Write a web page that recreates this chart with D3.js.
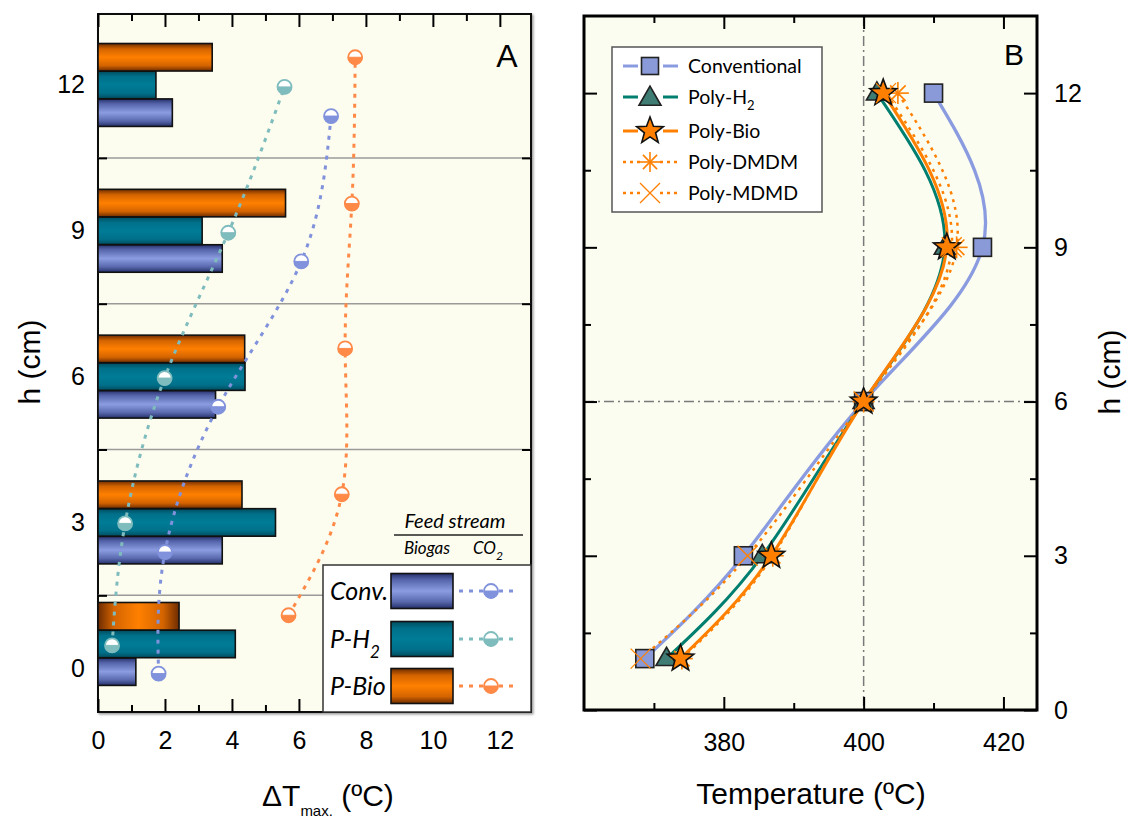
<!DOCTYPE html>
<html><head><meta charset="utf-8">
<script src="https://cdn.jsdelivr.net/npm/d3@7"></script>
<style>body{margin:0;background:#fff;} svg{display:block}</style>
</head><body><svg id="c" width="1132" height="823"></svg>
<script>
// ---------- Panel A data ----------
const groupH   = [0.5, 3, 6, 9, 12];          // bar group centre heights (cm)
const barConv  = [1.13, 3.71, 3.51, 3.71, 2.22];
const barPH2   = [4.10, 5.30, 4.39, 3.11, 1.73];
const barPBio  = [2.42, 4.30, 4.38, 5.60, 3.41];
const co2ConvX = [1.81, 2.00, 3.59, 6.07, 6.96];
const co2ConvH = [-0.11, 2.39, 5.38, 8.37, 11.36];
const co2PH2X  = [0.42, 0.81, 1.99, 3.89, 5.57];
const co2PH2H  = [0.47, 2.98, 5.97, 8.96, 11.96];
const co2PBioX = [5.69, 7.28, 7.38, 7.58, 7.68];
const co2PBioH = [1.09, 3.58, 6.58, 9.56, 12.57];
const aYLabels = [0, 3, 6, 9, 12];
const aSeparators = [1.5, 4.5, 7.5, 10.5];
const aXMajor = [0, 2, 4, 6, 8, 10, 12];
const aXMinor = [1, 3, 5, 7, 9, 11];

// ---------- Panel B data ----------
const hB     = [1, 3, 6, 9, 12];
const tConv  = [368.7, 382.8, 400, 417.0, 410.0];
const tPH2   = [371.8, 385.5, 400, 411.6, 401.9];
const tPBio  = [373.8, 386.8, 400, 411.9, 402.8];
const tDMDM  = [374.0, 387.0, 400, 413.3, 404.9];
const tMDMD  = [368.1, 383.4, 400, 412.6, 403.2];
const bXMajor = [380, 400, 420];
const bXMinor = [370, 390, 410];
const bYMajor = [0, 3, 6, 9, 12];
const bYMinor = [1.5, 4.5, 7.5, 10.5];
const bLegend = ["Conventional", "Poly-H", "Poly-Bio", "Poly-DMDM", "Poly-MDMD"];

const svg = d3.select("#c");
const FONT = "'Liberation Sans', Arial, sans-serif";
const IFONT = "Lato, 'Open Sans', sans-serif";
const defs = svg.append("defs");

function vGrad(id, stops) {
  const g = defs.append("linearGradient").attr("id", id).attr("x1",0).attr("y1",0).attr("x2",0).attr("y2",1);
  stops.forEach(s => g.append("stop").attr("offset", s[0]).attr("stop-color", s[1]));
}
function hGrad(id, stops) {
  const g = defs.append("linearGradient").attr("id", id).attr("x1",0).attr("y1",0).attr("x2",1).attr("y2",0);
  stops.forEach(s => g.append("stop").attr("offset", s[0]).attr("stop-color", s[1]));
}
vGrad("gBlue", [[0,"#25306a"],[0.18,"#5665ab"],[0.5,"#8b9de0"],[0.8,"#5a69ae"],[1,"#25306a"]]);
vGrad("gTeal", [[0,"#004c5e"],[0.2,"#00708a"],[0.5,"#007c97"],[0.8,"#00708a"],[1,"#004c5e"]]);
vGrad("gOrange", [[0,"#6e2c00"],[0.2,"#d46400"],[0.5,"#ff8000"],[0.8,"#d46400"],[1,"#6e2c00"]]);
hGrad("gOrangeH", [[0,"#6e2c00"],[0.2,"#d46400"],[0.5,"#ff8000"],[0.8,"#d46400"],[1,"#6e2c00"]]);
defs.append("filter").attr("id","shadow").append("feDropShadow")
  .attr("dx",1.5).attr("dy",1.5).attr("stdDeviation",1).attr("flood-color","#999");

// ================= PANEL A =================
const A = {l: 98, r: 531, t: 14, b: 712};
const xA = d3.scaleLinear().domain([0, 12.93]).range([A.l, A.r]);
const yA = d3.scaleLinear().domain([-0.9, 13.46]).range([A.b, A.t]);
const gA = svg.append("g");
gA.append("rect").attr("x",A.l).attr("y",A.t).attr("width",A.r-A.l).attr("height",A.b-A.t)
  .attr("fill","#fdfdef").attr("stroke","#111").attr("stroke-width",2).attr("filter","url(#shadow)");

// separators
gA.selectAll("line.sep").data(aSeparators).join("line").attr("class","sep")
  .attr("x1",A.l).attr("x2",A.r).attr("y1",d=>yA(d)).attr("y2",d=>yA(d))
  .attr("stroke","#9a9a9a").attr("stroke-width",1.5);

// bars
const bh = yA(0) - yA(0.566);
const off = 0.57;
const barSeries = [
  {vals: barConv, d: -off, fill: "url(#gBlue)"},
  {vals: barPH2,  d: 0,    fill: "url(#gTeal)"},
  {vals: barPBio, d: off,  fill: "url(#gOrange)"}
];
barSeries.forEach(s => {
  gA.selectAll(null).data(s.vals.map((v,i)=>({v, h: groupH[i] + s.d, i}))).join("rect")
    .attr("x", xA(0)).attr("y", d => yA(d.h) - bh/2)
    .attr("width", d => xA(d.v) - xA(0)).attr("height", bh)
    .attr("fill", d => (s.fill === "url(#gOrange)" && d.i === 0) ? "url(#gOrangeH)" : s.fill)
    .attr("stroke","#111").attr("stroke-width",1.6);
});

// CO2 dotted curves
const co2 = [
  {x: co2ConvX, h: co2ConvH, c: "#8192dc"},
  {x: co2PH2X,  h: co2PH2H,  c: "#7fbcbd"},
  {x: co2PBioX, h: co2PBioH, c: "#ff8a48"}
];
const lineA = d3.line().curve(d3.curveNatural);
function halfCircle(g, cx, cy, r, c) {
  g.append("circle").attr("cx",cx).attr("cy",cy).attr("r",r).attr("fill","#fff").attr("stroke",c).attr("stroke-width",1.8);
  g.append("path").attr("d", `M${cx-r},${cy} A${r},${r} 0 0 0 ${cx+r},${cy} Z`).attr("fill",c).attr("stroke",c).attr("stroke-width",1);
}
co2.forEach(s => {
  const pts = s.x.map((v,i)=>[xA(v), yA(s.h[i])]);
  gA.append("path").attr("d", lineA(pts)).attr("fill","none").attr("stroke",s.c)
    .attr("stroke-width",3).attr("stroke-dasharray","4,6");
});
co2.forEach(s => {
  s.x.forEach((v,i)=> halfCircle(gA, xA(v), yA(s.h[i]), 7, s.c));
});

// axes A
const axAB = d3.axisBottom(xA).tickValues(aXMajor).tickSizeInner(-13).tickSizeOuter(0).tickPadding(19).tickFormat(d3.format("d"));
gA.append("g").attr("transform",`translate(0,${A.b})`).call(axAB);
gA.append("g").attr("transform",`translate(0,${A.b})`).call(d3.axisBottom(xA).tickValues(aXMinor).tickSizeInner(-7).tickSizeOuter(0).tickFormat(""));
gA.append("g").attr("transform",`translate(0,${A.t})`).call(d3.axisTop(xA).tickValues(aXMajor).tickSizeInner(-13).tickSizeOuter(0).tickFormat(""));
gA.append("g").attr("transform",`translate(0,${A.t})`).call(d3.axisTop(xA).tickValues(aXMinor).tickSizeInner(-7).tickSizeOuter(0).tickFormat(""));
gA.append("g").attr("transform",`translate(${A.l},0)`).call(d3.axisLeft(yA).tickValues(aYLabels).tickSize(0).tickPadding(13).tickFormat(d3.format("d")));
gA.append("g").attr("transform",`translate(${A.l},0)`).call(d3.axisLeft(yA).tickValues(aSeparators).tickSizeInner(-9).tickSizeOuter(0).tickFormat(""));
gA.append("g").attr("transform",`translate(${A.r},0)`).call(d3.axisRight(yA).tickValues(aSeparators).tickSizeInner(-9).tickSizeOuter(0).tickFormat(""));

// legend A
const LA = {x: 323, y: 565, w: 208, h: 147};
gA.append("rect").attr("x",LA.x).attr("y",LA.y).attr("width",LA.w).attr("height",LA.h)
  .attr("fill","#fff").attr("stroke","#333").attr("stroke-width",1.5);
const legA = [
  {t: "Conv.", f: "url(#gBlue)", c: co2[0].c, y: 591},
  {t: "P-H", sub: "2", f: "url(#gTeal)", c: co2[1].c, y: 639},
  {t: "P-Bio", f: "url(#gOrange)", c: co2[2].c, y: 686}
];
legA.forEach(e => {
  const tx = gA.append("text").attr("x",330).attr("y",e.y+9).attr("font-family",IFONT).attr("font-style","italic")
    .attr("font-size",25).attr("fill","#000").text(e.t);
  if (e.sub) tx.append("tspan").attr("font-size",17).attr("dy",10).text(e.sub);
  gA.append("rect").attr("x",391).attr("y",e.y-17.5).attr("width",62).attr("height",35).attr("fill",e.f).attr("stroke","#111").attr("stroke-width",1.6);
  gA.append("line").attr("x1",459).attr("x2",518).attr("y1",e.y).attr("y2",e.y).attr("stroke",e.c).attr("stroke-width",3).attr("stroke-dasharray","4,6");
  halfCircle(gA, 491, e.y, 7, e.c);
});
gA.append("text").attr("x",455).attr("y",528).attr("text-anchor","middle").attr("font-family",IFONT).attr("font-style","italic").attr("font-size",20).text("Feed stream");
gA.append("line").attr("x1",394).attr("x2",523).attr("y1",535).attr("y2",535).attr("stroke","#222").attr("stroke-width",1.3);
gA.append("text").attr("x",427).attr("y",554).attr("text-anchor","middle").attr("font-family",IFONT).attr("font-style","italic").attr("font-size",17).text("Biogas");
const co2t = gA.append("text").attr("x",488).attr("y",554).attr("text-anchor","middle").attr("font-family",IFONT).attr("font-style","italic").attr("font-size",17).text("CO");
co2t.append("tspan").attr("font-size",12).attr("dy",6).text("2");

gA.append("text").attr("x",507).attr("y",67).attr("text-anchor","middle").attr("font-family",FONT).attr("font-size",32).text("A");

// ================= PANEL B =================
const B = {l: 584, r: 1037, t: 16, b: 710};
const xB = d3.scaleLinear().domain([360, 424.8]).range([B.l, B.r]);
const yB = d3.scaleLinear().domain([0, 13.5]).range([B.b, B.t]);
const gB = svg.append("g");
gB.append("rect").attr("x",B.l).attr("y",B.t).attr("width",B.r-B.l).attr("height",B.b-B.t).attr("fill","#fafdf0");
gB.append("line").attr("x1",xB(400)).attr("x2",xB(400)).attr("y1",B.t).attr("y2",B.b)
  .attr("stroke","#7a7a7a").attr("stroke-width",1.5).attr("stroke-dasharray","10,4,2,4");
gB.append("line").attr("x1",B.l).attr("x2",B.r).attr("y1",yB(6)).attr("y2",yB(6))
  .attr("stroke","#7a7a7a").attr("stroke-width",1.5).attr("stroke-dasharray","10,4,2,4");

const seriesB = [
  {t: tConv, c: "#8a9be0", w: 3.3, dash: null},
  {t: tPH2,  c: "#007f70", w: 3, dash: null},
  {t: tMDMD, c: "#ff8000", w: 2.5, dash: "3,5"},
  {t: tDMDM, c: "#ff8000", w: 2.5, dash: "3,5"},
  {t: tPBio, c: "#ff8000", w: 3, dash: null}
];
const lineB = d3.line().curve(d3.curveNatural);
seriesB.forEach(s => {
  gB.append("path").attr("d", lineB(s.t.map((v,i)=>[xB(v), yB(hB[i])])))
    .attr("fill","none").attr("stroke",s.c).attr("stroke-width",s.w).attr("stroke-dasharray",s.dash);
});

function starPath(R, r) {
  const p = [];
  for (let k = 0; k < 10; k++) {
    const a = -Math.PI/2 + k*Math.PI/5, rr = k%2 ? r : R;
    p.push([rr*Math.cos(a), rr*Math.sin(a)]);
  }
  return "M" + p.map(q=>q[0].toFixed(2)+","+q[1].toFixed(2)).join("L") + "Z";
}
function drawSquare(g,x,y,s){ g.append("rect").attr("x",x-s/2).attr("y",y-s/2).attr("width",s).attr("height",s).attr("fill","#8a9ad8").attr("stroke","#222").attr("stroke-width",1.6); }
function drawTri(g,x,y,s){ const h=s*0.87; g.append("path").attr("d",`M${x},${y-h*0.62}L${x+s/2},${y+h*0.38}L${x-s/2},${y+h*0.38}Z`).attr("fill","#3f7c74").attr("stroke","#222").attr("stroke-width",1.6); }
function drawStar(g,x,y,R){ g.append("path").attr("transform",`translate(${x},${y})`).attr("d",starPath(R,R*0.42)).attr("fill","#ff8000").attr("stroke","#111").attr("stroke-width",1.6); }
function drawAst(g,x,y,r){ for(let k=0;k<4;k++){const a=k*Math.PI/4; g.append("line").attr("x1",x-r*Math.cos(a)).attr("y1",y-r*Math.sin(a)).attr("x2",x+r*Math.cos(a)).attr("y2",y+r*Math.sin(a)).attr("stroke","#ff8000").attr("stroke-width",1.6);} }
function drawX(g,x,y,r){ [[1,1],[1,-1]].forEach(d=>g.append("line").attr("x1",x-r*d[0]).attr("y1",y-r*d[1]).attr("x2",x+r*d[0]).attr("y2",y+r*d[1]).attr("stroke","#ff8000").attr("stroke-width",1.3)); }

tConv.forEach((v,i)=>drawSquare(gB,xB(v),yB(hB[i]),18));
tPH2.forEach((v,i)=>drawTri(gB,xB(v),yB(hB[i]),21));
tDMDM.forEach((v,i)=>drawAst(gB,xB(v),yB(hB[i]),11));
tPBio.forEach((v,i)=>drawStar(gB,xB(v),yB(hB[i]),14));
tMDMD.forEach((v,i)=>drawX(gB,xB(v),yB(hB[i]),10));

gB.append("rect").attr("x",B.l).attr("y",B.t).attr("width",B.r-B.l).attr("height",B.b-B.t).attr("fill","none").attr("stroke","#000").attr("stroke-width",3);

// axes B
gB.append("g").attr("transform",`translate(0,${B.b})`).call(d3.axisBottom(xB).tickValues(bXMajor).tickSizeInner(-13).tickSizeOuter(0).tickPadding(23).tickFormat(d3.format("d")));
gB.append("g").attr("transform",`translate(0,${B.b})`).call(d3.axisBottom(xB).tickValues(bXMinor).tickSizeInner(-7).tickSizeOuter(0).tickFormat(""));
gB.append("g").attr("transform",`translate(0,${B.t})`).call(d3.axisTop(xB).tickValues(bXMajor).tickSizeInner(-13).tickSizeOuter(0).tickFormat(""));
gB.append("g").attr("transform",`translate(0,${B.t})`).call(d3.axisTop(xB).tickValues(bXMinor).tickSizeInner(-7).tickSizeOuter(0).tickFormat(""));
gB.append("g").attr("transform",`translate(${B.r},0)`).call(d3.axisRight(yB).tickValues(bYMajor).tickSizeInner(-13).tickSizeOuter(0).tickPadding(17).tickFormat(d3.format("d")));
gB.append("g").attr("transform",`translate(${B.r},0)`).call(d3.axisRight(yB).tickValues(bYMinor).tickSizeInner(-7).tickSizeOuter(0).tickFormat(""));
gB.append("g").attr("transform",`translate(${B.l},0)`).call(d3.axisLeft(yB).tickValues(bYMajor).tickSizeInner(-13).tickSizeOuter(0).tickFormat(""));
gB.append("g").attr("transform",`translate(${B.l},0)`).call(d3.axisLeft(yB).tickValues(bYMinor).tickSizeInner(-7).tickSizeOuter(0).tickFormat(""));

// legend B
gB.append("rect").attr("x",612).attr("y",47).attr("width",210).attr("height",165).attr("fill","#fff").attr("stroke","#555").attr("stroke-width",1.5);
const legYs = [66, 97, 131, 162, 193];
const legC = ["#8a9be0", "#007f70", "#ff8000", "#ff8000", "#ff8000"];
legYs.forEach((y,i)=>{
  if (i < 3) {
    gB.append("line").attr("x1",623).attr("x2",638).attr("y1",y).attr("y2",y).attr("stroke",legC[i]).attr("stroke-width",3);
    gB.append("line").attr("x1",663).attr("x2",678).attr("y1",y).attr("y2",y).attr("stroke",legC[i]).attr("stroke-width",3);
  } else {
    gB.append("line").attr("x1",623).attr("x2",640).attr("y1",y).attr("y2",y).attr("stroke",legC[i]).attr("stroke-width",2.5).attr("stroke-dasharray","3,4");
    gB.append("line").attr("x1",660).attr("x2",678).attr("y1",y).attr("y2",y).attr("stroke",legC[i]).attr("stroke-width",2.5).attr("stroke-dasharray","3,4");
  }
  const t = gB.append("text").attr("x",688).attr("y",y+7).attr("font-family",IFONT).attr("font-size",19.5).text(bLegend[i]);
  if (i === 1) t.append("tspan").attr("font-size",13).attr("dy",6).text("2");
});
drawSquare(gB,650,legYs[0],17);
drawTri(gB,650,legYs[1]+1,22);
drawStar(gB,650,legYs[2],14);
drawAst(gB,650,legYs[3],10);
drawX(gB,650,legYs[4],10);

gB.append("text").attr("x",1014).attr("y",65).attr("text-anchor","middle").attr("font-family",FONT).attr("font-size",30).text("B");

// ---------- axis styling & titles ----------
svg.selectAll(".tick text").attr("font-family",FONT).attr("font-size",25).attr("fill","#000");
svg.selectAll(".tick line").attr("stroke","#000").attr("stroke-width",2);
svg.selectAll(".domain").remove();

svg.append("text").attr("transform","translate(40,362) rotate(-90)").attr("text-anchor","middle").attr("font-family",FONT).attr("font-size",30).text("h (cm)");
svg.append("text").attr("transform","translate(1120,372) rotate(-90)").attr("text-anchor","middle").attr("font-family",FONT).attr("font-size",30).text("h (cm)");
const dt = svg.append("text").attr("x",262).attr("y",806).attr("font-family",FONT).attr("font-size",30);
dt.append("tspan").text("ΔT");
dt.append("tspan").attr("font-size",15).attr("dy",10).text("max.");
dt.append("tspan").attr("dy",-10).text(" (ºC)");
svg.append("text").attr("x",811).attr("y",804).attr("text-anchor","middle").attr("font-family",FONT).attr("font-size",30).text("Temperature (ºC)");
</script></body></html>
